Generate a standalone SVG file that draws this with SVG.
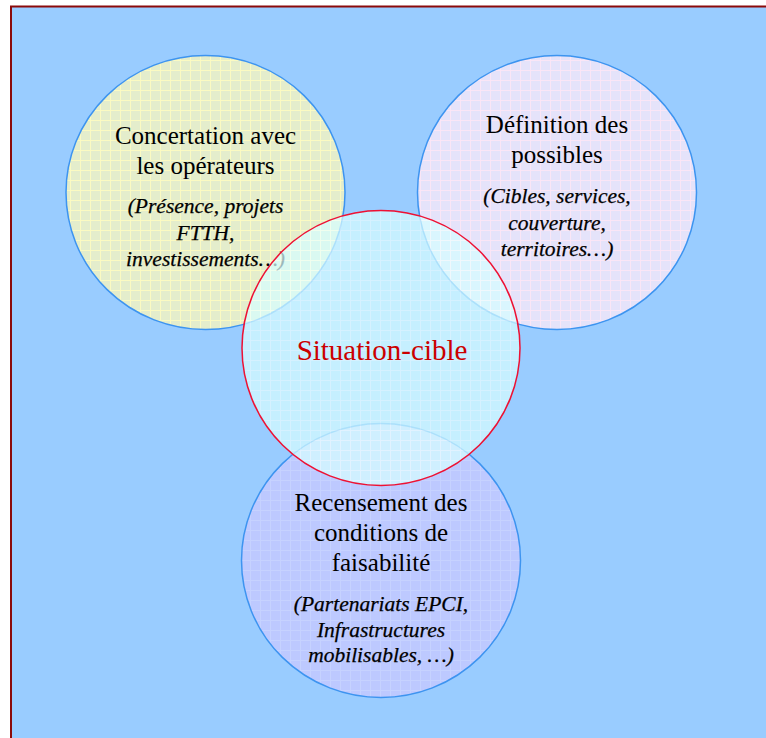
<svg xmlns="http://www.w3.org/2000/svg" width="766" height="738" viewBox="0 0 766 738">
<style>
.t{font-family:"Liberation Serif","Times New Roman",serif;font-size:25px;fill:#000;text-anchor:middle}
.i{font-family:"Liberation Serif","Times New Roman",serif;font-size:21.5px;font-style:italic;fill:#000;stroke:#000;stroke-width:0.25;text-anchor:middle}
.c{stroke:#3d94f0;stroke-width:1.5}
</style>
<defs>
<pattern id="pY" width="10" height="10" patternUnits="userSpaceOnUse">
<rect width="10" height="10" fill="#e4edcc"/>
<path d="M0 0.5H10M0.5 0V10" stroke="#fbfac2" stroke-width="1"/>
</pattern>
<pattern id="pP" width="10" height="10" patternUnits="userSpaceOnUse">
<rect width="10" height="10" fill="#e5e3fa"/>
<path d="M0 0.5H10M0.5 0V10" stroke="#fae6f6" stroke-width="1"/>
</pattern>
<pattern id="pB" width="10" height="10" patternUnits="userSpaceOnUse">
<rect width="10" height="10" fill="#bdc9ff"/>
<path d="M0 0.5H10M0.5 0V10" stroke="#c6d2ff" stroke-width="1"/>
</pattern>
<pattern id="pM" width="10" height="10" patternUnits="userSpaceOnUse">
<rect width="10" height="10" fill="#d6fdff"/>
<path d="M0 0.5H10M0.5 0V10" stroke="#ecffff" stroke-width="1"/>
</pattern>
</defs>
<rect width="766" height="738" fill="#ffffff"/>
<rect x="11" y="6.5" width="760" height="740" fill="#99ccff"/>
<path d="M11 738V6.5H766" fill="none" stroke="#8b0a0a" stroke-width="2"/>

<g id="node-concertation">
<ellipse class="c" cx="205.5" cy="192.5" rx="139.5" ry="137" fill="url(#pY)"/>
<text class="t" x="205.5" y="144">Concertation avec</text>
<text class="t" x="205.5" y="174">les opérateurs</text>
<text class="i" x="205.5" y="213">(Présence, projets</text>
<text class="i" x="205.5" y="239.5">FTTH,</text>
<text class="i" x="205.5" y="266">investissements…)</text>
</g>

<g id="node-definition">
<ellipse class="c" cx="557" cy="192.5" rx="139.5" ry="137" fill="url(#pP)"/>
<text class="t" x="557" y="133">Définition des</text>
<text class="t" x="557" y="163">possibles</text>
<text class="i" x="557" y="203">(Cibles, services,</text>
<text class="i" x="557" y="229.5">couverture,</text>
<text class="i" x="557" y="255.5">territoires…)</text>
</g>

<g id="node-recensement">
<ellipse class="c" cx="381" cy="560.5" rx="139.5" ry="137" fill="url(#pB)"/>
<text class="t" x="381" y="511">Recensement des</text>
<text class="t" x="381" y="541">conditions de</text>
<text class="t" x="381" y="571">faisabilité</text>
<text class="i" x="381" y="611">(Partenariats EPCI,</text>
<text class="i" x="381" y="637">Infrastructures</text>
<text class="i" x="381" y="662">mobilisables, …)</text>
</g>

<g id="node-situation">
<ellipse cx="381" cy="348" rx="139" ry="137.5" fill="url(#pM)" fill-opacity="0.72" stroke="#ee1133" stroke-width="1.5"/>
<text x="382" y="360" font-family="&quot;Liberation Serif&quot;,&quot;Times New Roman&quot;,serif" font-size="29" fill="#cc0000" text-anchor="middle">Situation-cible</text>
</g>
</svg>
